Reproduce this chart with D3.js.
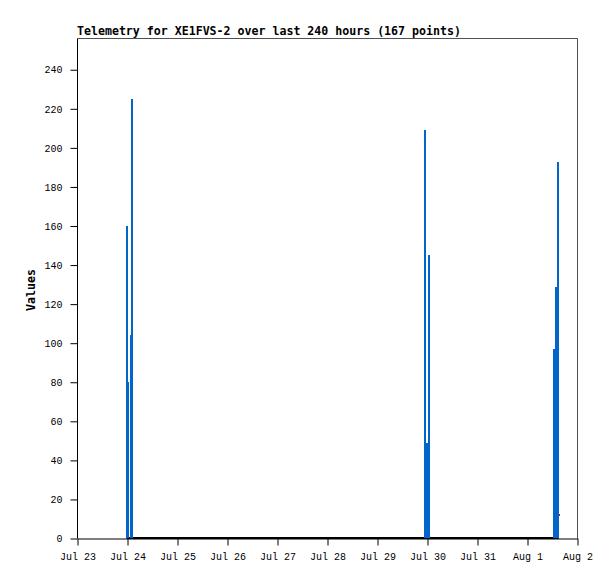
<!DOCTYPE html>
<html>
<head>
<meta charset="utf-8">
<script src="https://cdn.jsdelivr.net/npm/d3@7"></script>
<style>
  body { margin: 0; background: #fff; }
  svg { display: block; }
  .tick text { font-family: "Liberation Mono", monospace; font-size: 10px; fill: #000; }
</style>
</head>
<body>
<svg id="chart" width="615" height="579"></svg>
<script>
// telemetry samples (UTC)
var blueTimes = [
  "2023-07-23T23:35Z", "2023-07-24T00:05Z", "2023-07-24T01:50Z", "2023-07-24T02:20Z",
  "2023-07-29T23:00Z", "2023-07-29T23:45Z", "2023-07-30T00:30Z",
  "2023-08-01T12:30Z", "2023-08-01T13:15Z", "2023-08-01T13:55Z", "2023-08-01T14:25Z"
];
var blueValues = [160, 80, 104, 225, 209, 49, 145, 97, 65, 129, 193];

var zeroTimes = ["2023-07-23T23:35Z", "2023-08-01T15:00Z"];
var zeroValues = [0, 0];

var redTimes = ["2023-08-01T15:00Z"];
var redValues = [12];

var yTicks = [0, 20, 40, 60, 80, 100, 120, 140, 160, 180, 200, 220, 240];
var xStart = "2023-07-23T00:00Z";
var xEnd = "2023-08-02T00:00Z";
var title = "Telemetry for XE1FVS-2 over last 240 hours (167 points)";
var yLabel = "Values";

function drawChart() {
  var svg = d3.select("#chart");

  var pLeft = 77.5, pRight = 577.5, pTop = 38.5, pBottom = 538.5;

  var x = d3.scaleUtc()
    .domain([new Date(xStart), new Date(xEnd)])
    .range([pLeft, pRight]);

  var y = d3.scaleLinear()
    .domain([0, 256])
    .range([pBottom, pTop]);

  function pts(times, values) {
    return times.map(function(t, i) { return {t: new Date(t), v: values[i]}; });
  }

  // top & right frame
  svg.append("path")
    .attr("d", "M" + pLeft + "," + pTop + "H" + pRight + "V" + pBottom)
    .attr("fill", "none")
    .attr("stroke", "#505050")
    .attr("stroke-width", 1);

  // y axis
  var yAxis = svg.append("g")
    .attr("transform", "translate(" + pLeft + ",0)")
    .call(d3.axisLeft(y).tickValues(yTicks).tickSize(7).tickPadding(8).tickSizeOuter(0));
  yAxis.selectAll("line").attr("stroke", "#000");
  yAxis.select(".domain").attr("stroke", "#000").attr("d", "M0," + pTop + "V" + pBottom);

  // x axis
  var xAxis = svg.append("g")
    .attr("transform", "translate(0," + pBottom + ")")
    .call(d3.axisBottom(x).ticks(d3.utcDay.every(1)).tickFormat(d3.utcFormat("%b %-d"))
      .tickSize(7).tickSizeOuter(0));
  xAxis.selectAll("line").attr("stroke", "#000");
  xAxis.select(".domain").attr("stroke", "#000");
  xAxis.selectAll("text").attr("y", 21).attr("dy", null);

  // zero series
  svg.append("path")
    .datum(pts(zeroTimes, zeroValues))
    .attr("fill", "none")
    .attr("stroke", "#000")
    .attr("stroke-width", 2)
    .attr("d", d3.line().x(function(d) { return x(d.t); }).y(function(d) { return y(d.v) - 0.5; }));

  // impulses, snapped to whole pixels
  svg.selectAll(".imp")
    .data(pts(blueTimes, blueValues))
    .enter().append("line")
      .attr("class", "imp")
      .attr("x1", function(d) { return Math.round(x(d.t)); })
      .attr("x2", function(d) { return Math.round(x(d.t)); })
      .attr("y1", y(0) - 0.5)
      .attr("y2", function(d) { return Math.round(y(d.v)); })
      .attr("stroke", "#0066cc")
      .attr("stroke-width", 2);

  // red point
  svg.selectAll(".red")
    .data(pts(redTimes, redValues))
    .enter().append("rect")
      .attr("class", "red")
      .attr("x", function(d) { return Math.round(x(d.t)); })
      .attr("y", function(d) { return Math.round(y(d.v)) - 1; })
      .attr("width", 1)
      .attr("height", 2)
      .attr("fill", "#ff0000");

  // title
  svg.append("text")
    .attr("x", 77)
    .attr("y", 35)
    .attr("font-family", "DejaVu Sans Mono, monospace")
    .attr("font-weight", "bold")
    .attr("font-size", "11.6px")
    .text(title);

  // y label
  svg.append("text")
    .attr("transform", "translate(35,290) rotate(-90)")
    .attr("text-anchor", "middle")
    .attr("font-family", "DejaVu Sans Mono, monospace")
    .attr("font-weight", "bold")
    .attr("font-size", "11.6px")
    .text(yLabel);
}

drawChart();
</script>
</body>
</html>
